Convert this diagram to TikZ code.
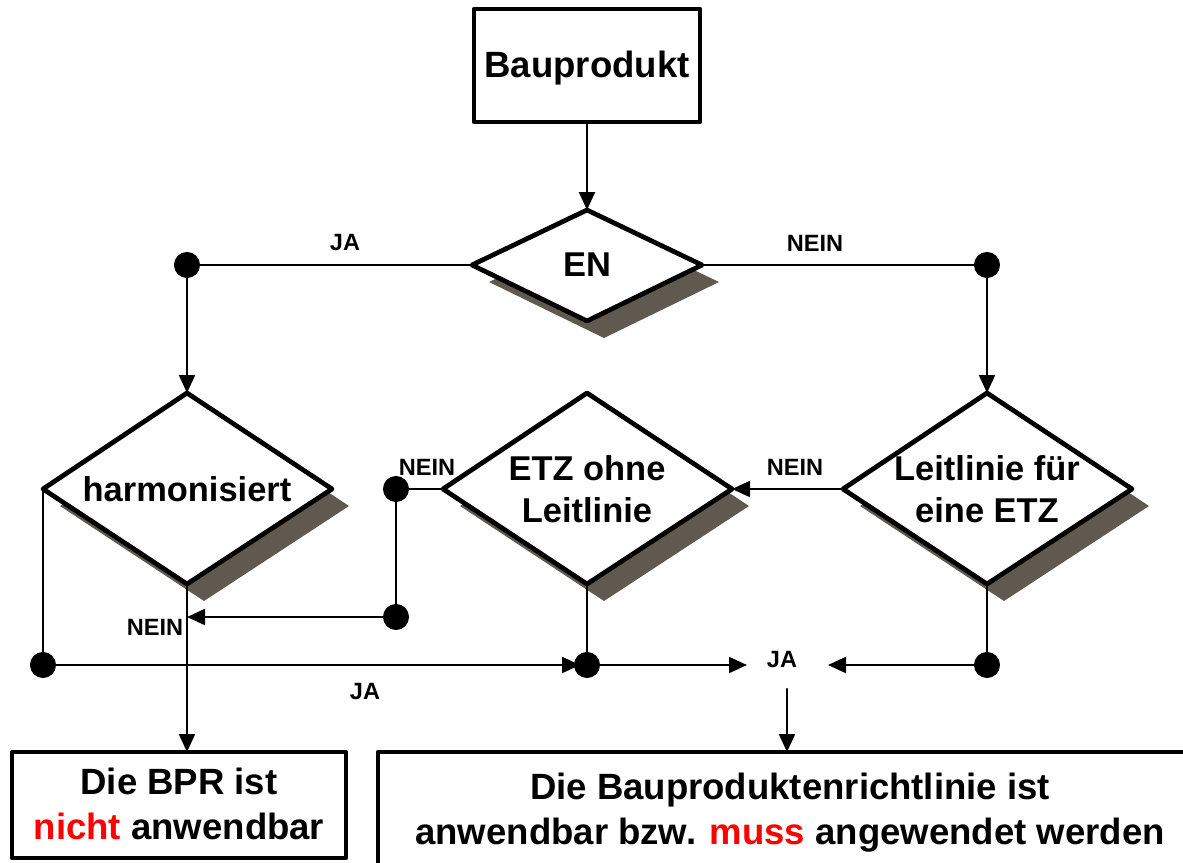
\documentclass[tikz,border=0pt]{standalone}
\usepackage{fontspec}
\setmainfont{Liberation Sans}
\usepackage{tikz}
\usepackage{tkz-euclide}
\usetikzlibrary{arrows.meta}

\definecolor{schatten}{RGB}{95,89,79}
\definecolor{rot}{RGB}{255,0,0}

\begin{document}
\begin{tikzpicture}[%
  verbindung/.style = {line width=0.6pt},
  raute/.style = {line width=1.35pt, fill=white},
  kasten/.style = {line width=1.2pt, fill=white},
  frage/.style = {font=\fontsize{9.8}{11.95}\selectfont\bfseries, align=center},
  ergebnis/.style = {font=\fontsize{10.4}{12.8}\selectfont\bfseries, align=center},
  antwort/.style = {font=\fontsize{6.7}{8}\selectfont\bfseries},
  >={Triangle[length=0.18cm,width=0.16cm]},
]

  \useasboundingbox (0,0) rectangle (11.83,8.62);
  \clip (0,0) rectangle (11.83,8.62);

  % Kasten oben
  \tkzDefPoint(4.74,8.53){K1}
  \tkzDefPoint(7.00,8.53){K2}
  \tkzDefPoint(7.00,7.40){K3}
  \tkzDefPoint(4.74,7.40){K4}
  \tkzDefPoint(5.87,7.40){Kb}

  % Rauten
  \tkzDefPoint(4.72,5.97){El}
  \tkzDefPoint(5.87,6.52){Et}
  \tkzDefPoint(7.02,5.97){Er}
  \tkzDefPoint(5.87,5.41){Eb}

  \tkzDefPoint(0.43,3.73){Hl}
  \tkzDefPoint(1.87,4.69){Ht}
  \tkzDefPoint(3.32,3.73){Hr}
  \tkzDefPoint(1.87,2.78){Hb}

  \tkzDefPoint(4.43,3.73){Zl}
  \tkzDefPoint(5.87,4.69){Zt}
  \tkzDefPoint(7.32,3.73){Zr}
  \tkzDefPoint(5.87,2.78){Zb}

  \tkzDefPoint(8.43,3.73){Ll}
  \tkzDefPoint(9.87,4.69){Lt}
  \tkzDefPoint(11.32,3.73){Lr}
  \tkzDefPoint(9.87,2.78){Lb}

  % Knoten der Leitungen
  \tkzDefPoint(1.87,5.97){J1}
  \tkzDefPoint(9.87,5.97){N1}
  \tkzDefPoint(3.96,3.73){A}
  \tkzDefPoint(3.96,2.45){B}
  \tkzDefPoint(1.87,2.45){Bh}
  \tkzDefPoint(0.43,1.97){C}
  \tkzDefPoint(5.87,1.97){D}
  \tkzDefPoint(9.87,1.97){F}
  \tkzDefPoint(7.47,1.97){Ja1}
  \tkzDefPoint(8.28,1.97){Ja2}
  \tkzDefPoint(7.87,1.73){Ja3}

  % Kaesten unten
  \tkzDefPoint(0.12,1.10){U1}
  \tkzDefPoint(3.46,1.10){U2}
  \tkzDefPoint(3.46,0.04){U3}
  \tkzDefPoint(0.12,0.04){U4}
  \tkzDefPoint(1.87,1.10){Ut}
  \tkzDefPoint(3.78,1.10){V1}
  \tkzDefPoint(12.05,1.10){V2}
  \tkzDefPoint(12.05,-0.10){V3}
  \tkzDefPoint(3.78,-0.10){V4}
  \tkzDefPoint(7.87,1.10){Vt}

  \begin{scope}[transform canvas={xshift=0.17cm, yshift=-0.17cm}]
    \tkzFillPolygon[color=schatten](El,Et,Er,Eb)
    \tkzFillPolygon[color=schatten](Hl,Ht,Hr,Hb)
    \tkzFillPolygon[color=schatten](Zl,Zt,Zr,Zb)
    \tkzFillPolygon[color=schatten](Ll,Lt,Lr,Lb)
  \end{scope}

  \tkzDrawPolygon[raute](El,Et,Er,Eb)
  \tkzDrawPolygon[raute](Hl,Ht,Hr,Hb)
  \tkzDrawPolygon[raute](Zl,Zt,Zr,Zb)
  \tkzDrawPolygon[raute](Ll,Lt,Lr,Lb)

  \tkzDrawPolygon[kasten](K1,K2,K3,K4)
  \tkzDrawPolygon[kasten](U1,U2,U3,U4)
  \tkzDrawPolygon[kasten](V1,V2,V3,V4)

  \tkzDrawSegments[verbindung](El,J1 Er,N1 Zl,A A,B Hl,C Zb,D Lb,F)
  \tkzDrawSegments[verbindung,->](Kb,Et J1,Ht N1,Lt Ll,Zr B,Bh Hb,Ut D,Ja1 F,Ja2 Ja3,Vt)
  \tkzDrawSegment[verbindung,->,shorten >=0.07cm](C,D)

  \tkzDrawPoints[size=7,color=black,fill=black](J1,N1,A,B,C,D,F)

  \node[frage] (bau) at (5.87,7.94) {\fontsize{10.4}{12.8}\selectfont Bauprodukt};
  \node[frage] (en) at (5.87,5.97) {EN};
  \node[frage] (harm) at (1.87,3.73) {harmonisiert};
  \node[frage] (etz) at (5.87,3.73) {ETZ ohne\\Leitlinie};
  \node[frage] (leit) at (9.87,3.73) {Leitlinie für\\eine ETZ};

  \node[ergebnis] (nicht) at (1.79,0.58) {Die BPR ist\\\textcolor{rot}{nicht} anwendbar};
  \node[ergebnis] (bpr) at (7.90,0.49) {Die Bauproduktenrichtlinie ist\\anwendbar bzw. \textcolor{rot}{muss} angewendet werden};

  \node[antwort] (ja1) at (3.45,6.19) {JA};
  \node[antwort] (nein1) at (8.15,6.19) {NEIN};
  \node[antwort] (nein2) at (4.27,3.95) {NEIN};
  \node[antwort] (nein3) at (7.95,3.95) {NEIN};
  \node[antwort] (nein4) at (1.55,2.35) {NEIN};
  \node[antwort] (ja2) at (3.65,1.70) {JA};
  \node[antwort] (ja3) at (7.82,2.02) {JA};

\end{tikzpicture}
\end{document}
